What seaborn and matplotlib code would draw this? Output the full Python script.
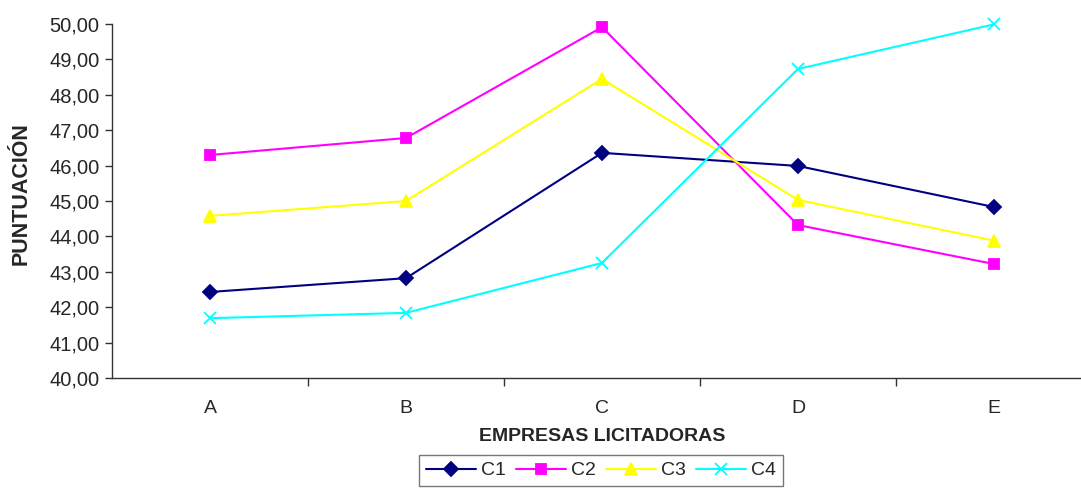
import pandas as pd
import seaborn as sns
import matplotlib.pyplot as plt
from matplotlib.ticker import FuncFormatter, FixedLocator

# Data
empresas = ['A', 'B', 'C', 'D', 'E']
c1 = [42.43, 42.82, 46.36, 45.99, 44.83]
c2 = [46.30, 46.78, 49.91, 44.32, 43.22]
c3 = [44.58, 45.00, 48.45, 45.03, 43.88]
c4 = [41.69, 41.84, 43.25, 48.73, 49.99]
series = ['C1', 'C2', 'C3', 'C4']

df = pd.DataFrame({'empresa': empresas * 4,
                   'serie': [s for s in series for _ in empresas],
                   'puntuacion': c1 + c2 + c3 + c4})

sns.set_style('white')
plt.rcParams['font.family'] = ['Liberation Sans', 'DejaVu Sans']

fig = plt.figure(figsize=(10.81, 4.91), dpi=100)
ax = fig.add_axes([112 / 1081, 1 - 378 / 491, 980 / 1081, 354 / 491])

palette = {'C1': '#000080', 'C2': '#FF00FF', 'C3': '#FFFF00', 'C4': '#00FFFF'}
markers = {'C1': 'D', 'C2': 's', 'C3': '^', 'C4': 'x'}
sizes = {'C1': 7, 'C2': 7, 'C3': 9, 'C4': 9}

# one call per series, since filled and line-art markers can't share a style map
for s in series:
    sns.lineplot(data=df[df['serie'] == s], x='empresa', y='puntuacion',
                 color=palette[s], marker=markers[s], markersize=sizes[s],
                 markeredgewidth=1.3, markeredgecolor=palette[s],
                 markerfacecolor=palette[s], sort=False, linewidth=1.5,
                 ax=ax, label=s, legend=False, clip_on=False)

ax.set_xlim(-0.5, 4.5)
ax.set_ylim(40, 50)
ax.set_yticks(range(40, 51))
ax.yaxis.set_major_formatter(FuncFormatter(lambda v, p: f'{v:.2f}'.replace('.', ',')))
ax.xaxis.set_minor_locator(FixedLocator([0.5, 1.5, 2.5, 3.5]))
ax.tick_params(axis='x', which='major', length=0, pad=16, labelsize=14)
ax.tick_params(axis='x', which='minor', length=6, width=1, color='#333333', direction='out', bottom=True)
ax.tick_params(axis='y', length=5, width=1, color='#333333', direction='out', left=True,
               labelsize=14.5, pad=4)

for side in ['top', 'right']:
    ax.spines[side].set_visible(False)
for side in ['left', 'bottom']:
    ax.spines[side].set_color('#333333')
    ax.spines[side].set_linewidth(1)

ax.set_xlabel('EMPRESAS LICITADORAS', fontsize=14, fontweight='bold', labelpad=8)
ax.set_ylabel('PUNTUACIÓN', fontsize=15.5, fontweight='bold')
ax.yaxis.set_label_coords(-0.082, 0.52)

handles = [plt.Line2D([], [], color=palette[s], marker=markers[s], markersize=sizes[s],
                      markeredgewidth=1.3, markerfacecolor=palette[s],
                      markeredgecolor=palette[s], linewidth=1.5) for s in series]
leg = fig.legend(handles, series, loc='upper center', ncol=4,
                 bbox_to_anchor=(601 / 1081, 1 - 455 / 491), fontsize=14,
                 frameon=True, fancybox=False, edgecolor='#555555',
                 handlelength=2.6, columnspacing=0.5, handletextpad=0.25,
                 borderpad=0.35, borderaxespad=0)
leg.get_frame().set_linewidth(1)

fig.savefig('out.png', dpi=100)
